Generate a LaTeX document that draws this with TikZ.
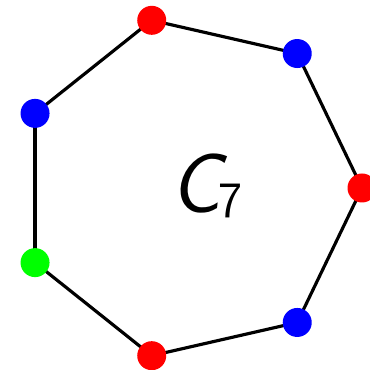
\documentclass[tikz,border=0pt]{standalone}
\usepackage{amsmath}
\usepackage{tikz}

\tikzset{
  vert/.style={circle,inner sep=0pt,minimum size=0.58cm},
  edge/.style={line width=1.8pt,black}
}

\begin{document}
\begin{tikzpicture}

% Frame
\useasboundingbox (-3.8,-3.64) rectangle (3.6,3.76);

% Vertices
\foreach \i in {0,...,6}{
    \coordinate (v\i) at ({\i*360/7}:3.44);
}

% Edges
\foreach \i/\j in {0/1,1/2,2/3,3/4,4/5,5/6,6/0}{
    \draw[edge] (v\i) -- (v\j);
}

% Dots
\foreach \i/\col in {0/red,1/blue,2/red,3/blue,4/green,5/red,6/blue}{
    \node[vert,fill=\col] (d\i) at (v\i) {};
}

% Label
\node (lab) at (0.33,0.04)
    {\fontsize{48}{54}\selectfont\sffamily\slshape C\kern-1pt\raisebox{-2.5pt}{\fontsize{29}{34}\selectfont\upshape 7}};

\end{tikzpicture}
\end{document}
